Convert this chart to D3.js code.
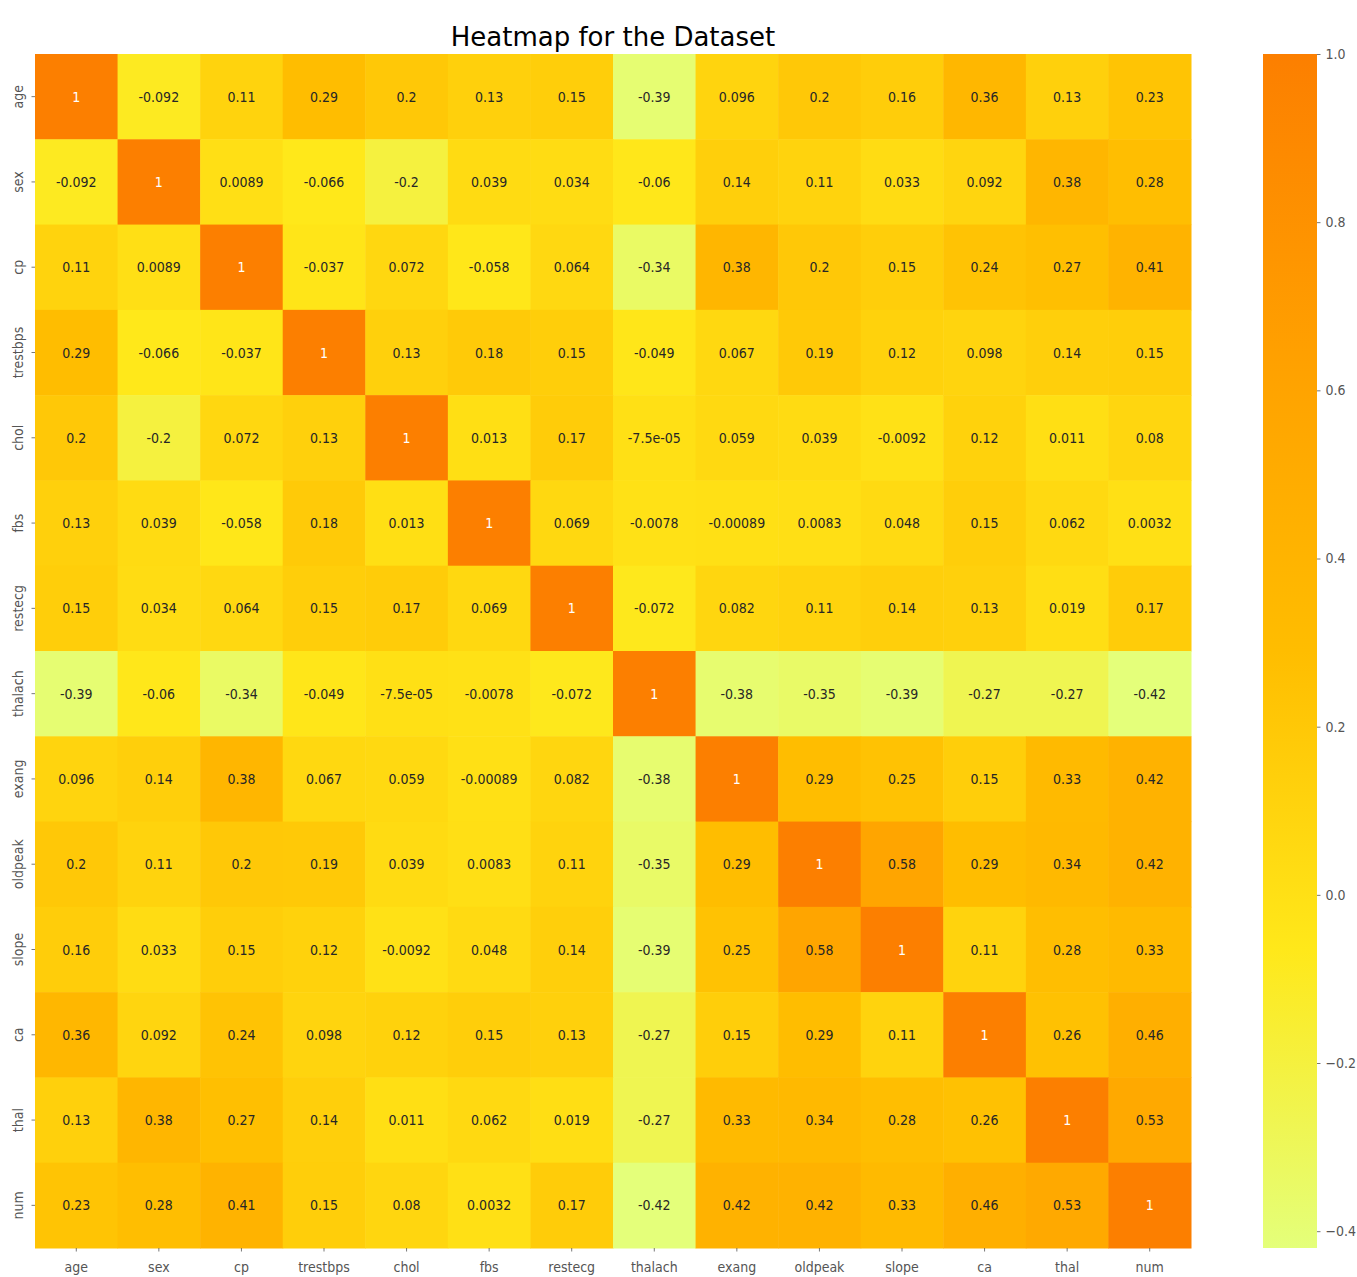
<!DOCTYPE html>
<html>
<head>
<meta charset="utf-8">
<script src="https://cdn.jsdelivr.net/npm/d3@7"></script>
<style>
  html, body { margin: 0; padding: 0; background: #fff; }
  svg { display: block; }
  .lbl { font-family: "DejaVu Sans Condensed", "DejaVu Sans", sans-serif; font-stretch: condensed; }
</style>
</head>
<body>
<svg id="chart" width="1357" height="1277"></svg>
<script>
// Feature names (rows and columns share the same order)
const features = ["age", "sex", "cp", "trestbps", "chol", "fbs", "restecg",
                  "thalach", "exang", "oldpeak", "slope", "ca", "thal", "num"];

// Pairwise correlation matrix, one array per row
const age      = [1, -0.092, 0.11, 0.29, 0.2, 0.13, 0.15, -0.39, 0.096, 0.2, 0.16, 0.36, 0.13, 0.23];
const sex      = [-0.092, 1, 0.0089, -0.066, -0.2, 0.039, 0.034, -0.06, 0.14, 0.11, 0.033, 0.092, 0.38, 0.28];
const cp       = [0.11, 0.0089, 1, -0.037, 0.072, -0.058, 0.064, -0.34, 0.38, 0.2, 0.15, 0.24, 0.27, 0.41];
const trestbps = [0.29, -0.066, -0.037, 1, 0.13, 0.18, 0.15, -0.049, 0.067, 0.19, 0.12, 0.098, 0.14, 0.15];
const chol     = [0.2, -0.2, 0.072, 0.13, 1, 0.013, 0.17, -7.5e-05, 0.059, 0.039, -0.0092, 0.12, 0.011, 0.08];
const fbs      = [0.13, 0.039, -0.058, 0.18, 0.013, 1, 0.069, -0.0078, -0.00089, 0.0083, 0.048, 0.15, 0.062, 0.0032];
const restecg  = [0.15, 0.034, 0.064, 0.15, 0.17, 0.069, 1, -0.072, 0.082, 0.11, 0.14, 0.13, 0.019, 0.17];
const thalach  = [-0.39, -0.06, -0.34, -0.049, -7.5e-05, -0.0078, -0.072, 1, -0.38, -0.35, -0.39, -0.27, -0.27, -0.42];
const exang    = [0.096, 0.14, 0.38, 0.067, 0.059, -0.00089, 0.082, -0.38, 1, 0.29, 0.25, 0.15, 0.33, 0.42];
const oldpeak  = [0.2, 0.11, 0.2, 0.19, 0.039, 0.0083, 0.11, -0.35, 0.29, 1, 0.58, 0.29, 0.34, 0.42];
const slope    = [0.16, 0.033, 0.15, 0.12, -0.0092, 0.048, 0.14, -0.39, 0.25, 0.58, 1, 0.11, 0.28, 0.33];
const ca       = [0.36, 0.092, 0.24, 0.098, 0.12, 0.15, 0.13, -0.27, 0.15, 0.29, 0.11, 1, 0.26, 0.46];
const thal     = [0.13, 0.38, 0.27, 0.14, 0.011, 0.062, 0.019, -0.27, 0.33, 0.34, 0.28, 0.26, 1, 0.53];
const num      = [0.23, 0.28, 0.41, 0.15, 0.08, 0.0032, 0.17, -0.42, 0.42, 0.42, 0.33, 0.46, 0.53, 1];

const matrix = [age, sex, cp, trestbps, chol, fbs, restecg, thalach, exang, oldpeak, slope, ca, thal, num];

// Colour bar tick values
const cbarTicks = [-0.4, -0.2, 0.0, 0.2, 0.4, 0.6, 0.8, 1.0];

// Wistia colormap anchor colours
const wistia = ["rgb(228,255,122)", "rgb(255,232,26)", "rgb(255,189,0)", "rgb(255,160,0)", "rgb(252,127,0)"];

const titleText = "Heatmap for the Dataset";

// ---- layout ----
const svg = d3.select("#chart");
const plot = { left: 35, right: 1191, top: 54, bottom: 1248 };
const cbar = { left: 1263, right: 1317 };

const cells = [];
matrix.forEach((row, i) => row.forEach((v, j) => cells.push({ r: features[i], c: features[j], v })));

const vmin = d3.min(cells, d => d.v);
const vmax = d3.max(cells, d => d.v);

const x = d3.scaleBand().domain(features).range([plot.left, plot.right]);
const y = d3.scaleBand().domain(features).range([plot.top, plot.bottom]);

const color = d3.scaleLinear()
  .domain(d3.range(5).map(k => vmin + k / 4 * (vmax - vmin)))
  .range(wistia)
  .interpolate(d3.interpolateRgb)
  .clamp(true);

// Number formatting in the style of "{:.2g}"
function fmt2g(v) {
  if (v === 0) return "0";
  const a = Math.abs(v);
  const e = Math.floor(Math.log10(a));
  if (e < -4 || e >= 2) {
    let s = v.toExponential(1).replace(/\.0e/, "e");
    return s.replace(/e([+-])(\d)$/, "e$10$2");
  }
  return String(+v.toPrecision(2));
}

// Relative luminance decides light/dark annotation text
function textColor(c) {
  const rgb = d3.rgb(c);
  const lin = [rgb.r, rgb.g, rgb.b].map(u => {
    u /= 255;
    return u <= 0.03928 ? u / 12.92 : Math.pow((u + 0.055) / 1.055, 2.4);
  });
  const lum = 0.2126 * lin[0] + 0.7152 * lin[1] + 0.0722 * lin[2];
  return lum > 0.408 ? "#262626" : "#ffffff";
}

// ---- cells ----
const g = svg.append("g");
g.selectAll("rect.cell")
  .data(cells)
  .join("rect")
  .attr("class", "cell")
  .attr("x", d => x(d.c))
  .attr("y", d => y(d.r))
  .attr("width", x.bandwidth() + 0.5)
  .attr("height", y.bandwidth() + 0.5)
  .attr("fill", d => color(d.v));

g.selectAll("text.ann")
  .data(cells)
  .join("text")
  .attr("class", "ann lbl")
  .attr("x", d => x(d.c) + x.bandwidth() / 2)
  .attr("y", d => y(d.r) + y.bandwidth() / 2)
  .attr("text-anchor", "middle")
  .attr("dominant-baseline", "central")
  .attr("font-size", 14)
  .attr("fill", d => textColor(color(d.v)))
  .text(d => fmt2g(d.v));

// ---- axes ----
const tickColor = "#555555";
const xAxis = d3.axisBottom(x).tickSize(3.5).tickPadding(6);
const yAxis = d3.axisLeft(y).tickSize(3.5).tickPadding(6);

const gx = svg.append("g").attr("transform", `translate(0,${plot.bottom})`).call(xAxis);
const gy = svg.append("g").attr("transform", `translate(${plot.left},0)`).call(yAxis);

[gx, gy].forEach(ax => {
  ax.select(".domain").remove();
  ax.selectAll(".tick line").attr("stroke", tickColor).attr("stroke-width", 0.8);
  ax.selectAll(".tick text")
    .attr("class", "lbl")
    .attr("fill", tickColor)
    .attr("font-size", 14);
});
gx.selectAll(".tick text").attr("dy", "1.05em");
gy.selectAll(".tick text")
  .attr("text-anchor", "middle")
  .attr("dy", null)
  .attr("dominant-baseline", "central")
  .attr("x", 0)
  .attr("transform", "translate(-17,0) rotate(-90)");

// ---- colour bar ----
const cy = d3.scaleLinear().domain([vmin, vmax]).range([plot.bottom, plot.top]);

const defs = svg.append("defs");
const grad = defs.append("linearGradient")
  .attr("id", "cbarGrad")
  .attr("x1", 0).attr("y1", 1).attr("x2", 0).attr("y2", 0);
grad.selectAll("stop")
  .data(color.domain())
  .join("stop")
  .attr("offset", d => (d - vmin) / (vmax - vmin))
  .attr("stop-color", d => color(d));

svg.append("rect")
  .attr("x", cbar.left)
  .attr("y", cy(vmax))
  .attr("width", cbar.right - cbar.left)
  .attr("height", cy(vmin) - cy(vmax))
  .attr("fill", "url(#cbarGrad)");

const cAxis = d3.axisRight(cy)
  .tickValues(cbarTicks)
  .tickSize(3.5)
  .tickPadding(5)
  .tickFormat(d => (d < 0 ? "\u2212" : "") + Math.abs(d).toFixed(1));

const gc = svg.append("g").attr("transform", `translate(${cbar.right},0)`).call(cAxis);
gc.select(".domain").remove();
gc.selectAll(".tick line").attr("stroke", tickColor).attr("stroke-width", 0.8);
gc.selectAll(".tick text").attr("class", "lbl").attr("fill", tickColor).attr("font-size", 14);

// ---- title ----
svg.append("text")
  .attr("x", (plot.left + plot.right) / 2)
  .attr("y", 46)
  .attr("text-anchor", "middle")
  .attr("font-family", "DejaVu Sans, sans-serif")
  .attr("font-size", 26)
  .attr("fill", "#000")
  .text(titleText);
</script>
</body>
</html>
